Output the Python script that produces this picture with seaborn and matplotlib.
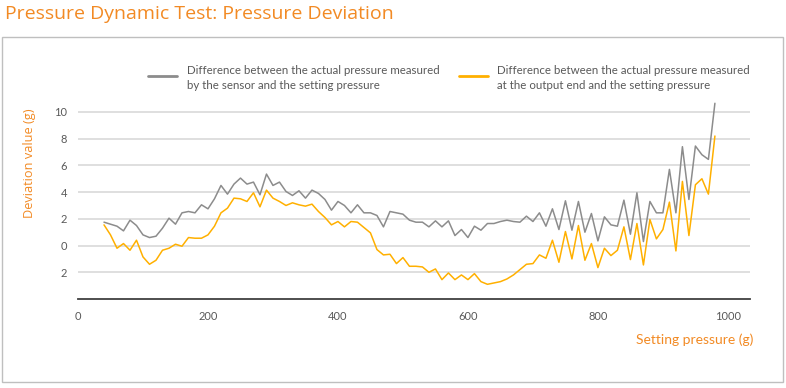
import numpy as np
import pandas as pd
import seaborn as sns
import matplotlib.pyplot as plt
from matplotlib.lines import Line2D
from matplotlib.patches import Rectangle

# setting pressure (g)
setting = [40, 50, 60, 70, 80, 90, 100, 110, 120, 130,
           140, 150, 160, 170, 180, 190, 200, 210, 220, 230,
           240, 250, 260, 270, 280, 290, 300, 310, 320, 330,
           340, 350, 360, 370, 380, 390, 400, 410, 420, 430,
           440, 450, 460, 470, 480, 490, 500, 510, 520, 530,
           540, 550, 560, 570, 580, 590, 600, 610, 620, 630,
           640, 650, 660, 670, 680, 690, 700, 710, 720, 730,
           740, 750, 760, 770, 780, 790, 800, 810, 820, 830,
           840, 850, 860, 870, 880, 890, 900, 910, 920, 930,
           940, 950, 960, 970, 980]

# sensor - setting
sensor_dev = [1.75, 1.6, 1.45, 1.1, 1.9, 1.5, 0.8, 0.6, 0.7, 1.3,
              2.05, 1.6, 2.45, 2.55, 2.45, 3.05, 2.75, 3.5, 4.5, 3.85,
              4.6, 5.05, 4.6, 4.75, 3.8, 5.35, 4.5, 4.75, 4.05, 3.75,
              4.1, 3.55, 4.15, 3.9, 3.45, 2.65, 3.3, 3.0, 2.45, 3.05,
              2.45, 2.45, 2.25, 1.4, 2.55, 2.45, 2.35, 1.9, 1.75, 1.75,
              1.4, 1.85, 1.4, 1.85, 0.75, 1.2, 0.6, 1.45, 1.15, 1.65,
              1.65, 1.8, 1.9, 1.8, 1.75, 2.2, 1.8, 2.45, 1.45, 2.75,
              1.2, 3.35, 1.15, 3.3, 1.0, 2.4, 0.35, 2.15, 1.55, 1.45,
              3.4, 0.85, 3.95, 0.3, 3.3, 2.45, 2.45, 5.7, 2.45, 7.4,
              3.45, 7.45, 6.8, 6.45, 10.65]

# output end - setting
output_dev = [1.55, 0.8, -0.2, 0.15, -0.35, 0.4, -0.85, -1.4, -1.1, -0.35,
              -0.2, 0.1, -0.05, 0.6, 0.55, 0.55, 0.8, 1.45, 2.45, 2.8,
              3.55, 3.5, 3.3, 3.95, 2.9, 4.15, 3.55, 3.3, 3.0, 3.2,
              3.05, 2.95, 3.1, 2.55, 2.1, 1.55, 1.8, 1.4, 1.8, 1.75,
              1.35, 0.95, -0.3, -0.7, -0.65, -1.35, -0.9, -1.55, -1.55, -1.6,
              -2.0, -1.75, -2.55, -2.05, -2.55, -2.2, -2.55, -2.1, -2.7, -2.9,
              -2.8, -2.7, -2.5, -2.2, -1.8, -1.4, -1.35, -0.7, -0.95, 0.4,
              -1.25, 1.05, -1.0, 1.5, -1.1, 0.15, -1.65, -0.2, -0.75, -0.35,
              1.4, -1.05, 1.65, -1.45, 1.95, 0.5, 1.2, 3.25, -0.4, 4.8,
              0.75, 4.55, 5.0, 3.85, 8.2]

labels = ["Difference between the actual pressure measured\nby the sensor and the setting pressure",
          "Difference between the actual pressure measured\nat the output end and the setting pressure"]
colors = ["#8c8c8c", "#FFB000"]

yticks = [-2, 0, 2, 4, 6, 8, 10]
ytick_labels = ["2", "0", "2", "4", "6", "8", "10"]
xticks = [0, 200, 400, 600, 800, 1000]

df = pd.DataFrame({"setting": setting * 2,
                   "dev": sensor_dev + output_dev,
                   "series": [labels[0]] * len(setting) + [labels[1]] * len(setting)})

sns.set_style("white")
plt.rcParams['font.family'] = ['Lato', 'DejaVu Sans']

W, H = 786, 388
fig = plt.figure(figsize=(W / 100, H / 100), dpi=100)
ax = fig.add_axes([78 / W, 1 - 299 / H, (750 - 78) / W, (299 - 98.6) / H])

sns.lineplot(data=df, x="setting", y="dev", hue="series", palette=colors,
             linewidth=1.1, legend=False, ax=ax)

ax.set_xlim(0, 1034)
ax.set_ylim(-4, 11)
ax.set_yticks(yticks)
ax.set_yticklabels(ytick_labels)
ax.set_xticks(xticks)
ax.tick_params(axis="both", length=0, labelsize=8, colors="#595959")
ax.tick_params(axis="x", pad=9)
ax.tick_params(axis="y", pad=8)
ax.grid(axis="y", color="#d9d9d9", linewidth=1.2)
ax.set_axisbelow(True)
for s in ["top", "right", "left"]:
    ax.spines[s].set_visible(False)
ax.spines["bottom"].set_color("#404040")
ax.spines["bottom"].set_linewidth(1.3)
ax.set_xlabel("")
ax.set_ylabel("")

orange = "#F28A24"
fig.text(5 / W, 1 - 14 / H, "Pressure Dynamic Test: Pressure Deviation",
         color=orange, fontsize=14, family=["Open Sans", "DejaVu Sans"],
         ha="left", va="center")
fig.text(30 / W, 1 - 163 / H, "Deviation value (g)", color=orange,
         fontsize=9.2, family=["Open Sans", "DejaVu Sans"], rotation=90,
         ha="center", va="center")
fig.text(753 / W, 1 - 340 / H, "Setting pressure (g)", color=orange,
         fontsize=10, ha="right", va="center")

# legend drawn by hand
for hx, tx, lab, c in [(148, 187, labels[0], colors[0]), (459, 497, labels[1], colors[1])]:
    fig.add_artist(Line2D([hx / W, (hx + 29) / W], [1 - 75.5 / H, 1 - 75.5 / H],
                          color=c, linewidth=2, transform=fig.transFigure))
    fig.text(tx / W, 1 - 78 / H, lab, color="#595959", fontsize=8.25,
             ha="left", va="center", linespacing=1.4)

fig.add_artist(Rectangle((2 / W, 1 - 382 / H), 781 / W, 345 / H, fill=False,
                         edgecolor="#bfbfbf", linewidth=1, transform=fig.transFigure))

fig.savefig("out.png", dpi=100)
